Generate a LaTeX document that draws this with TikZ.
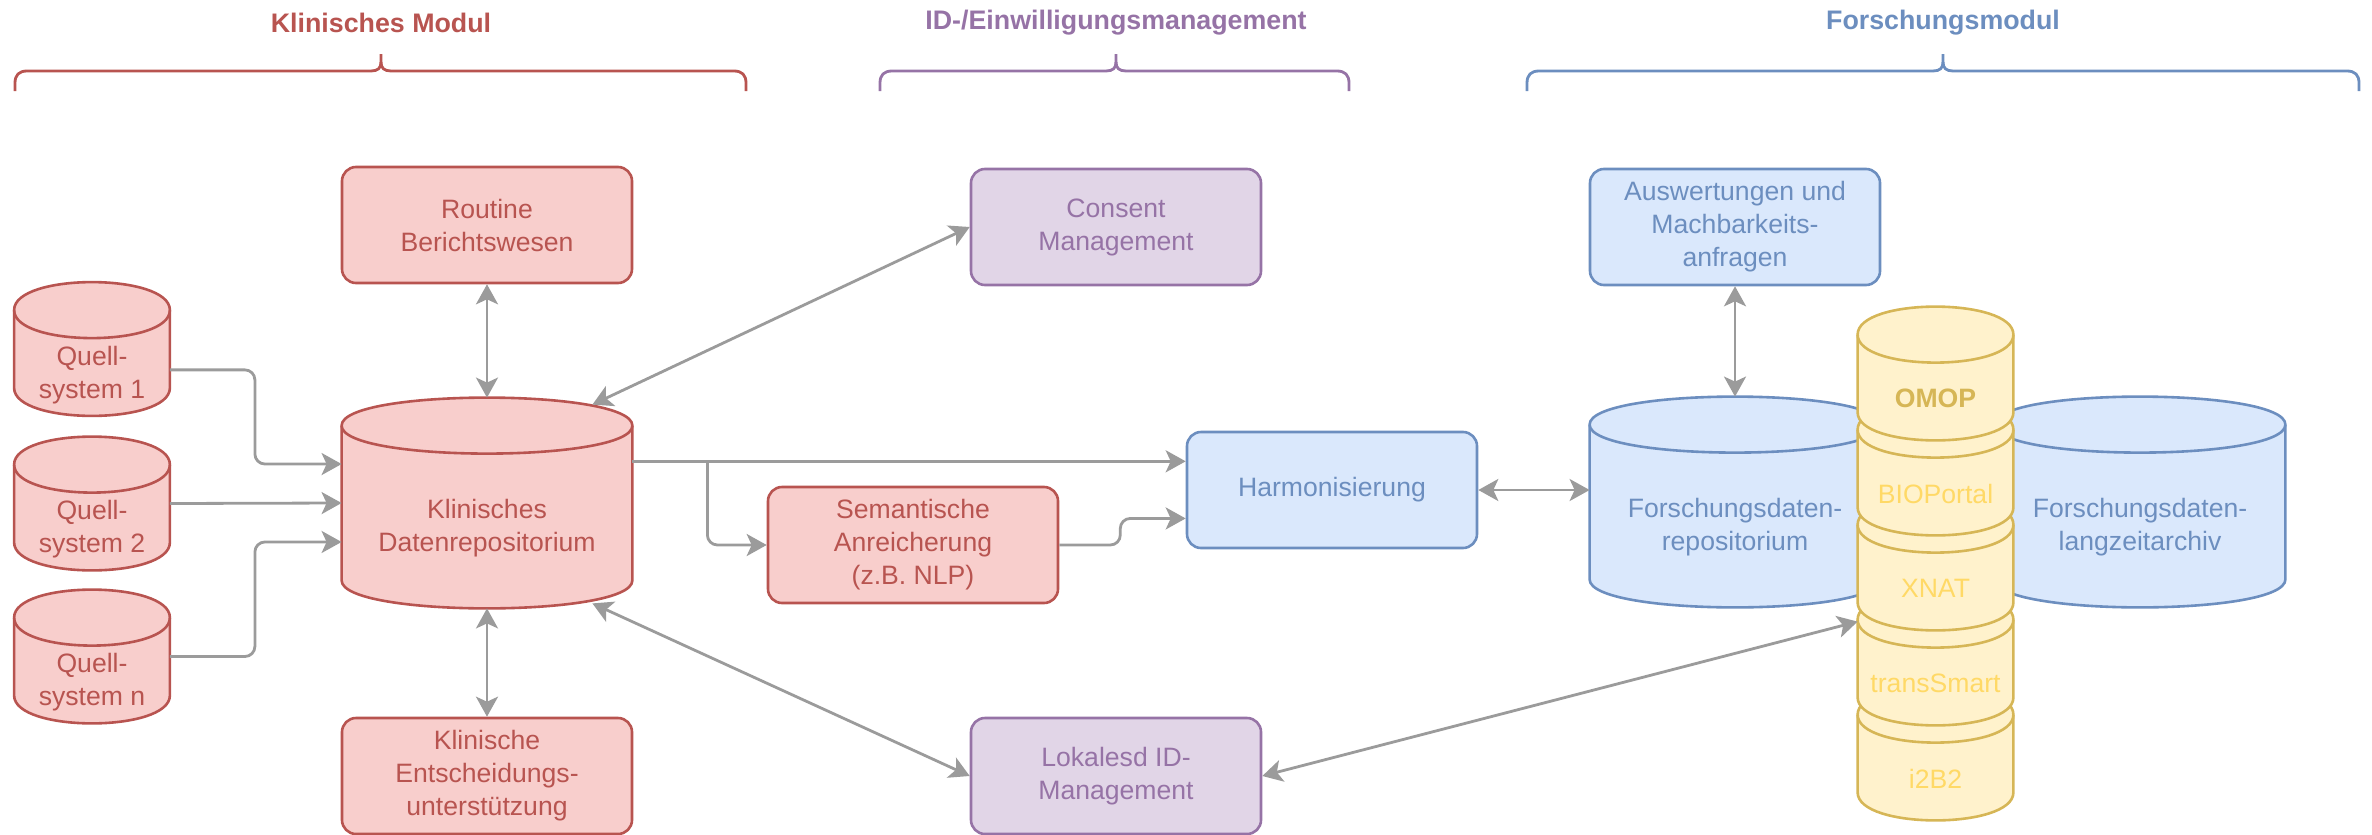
\documentclass[tikz,border=0pt]{standalone}
\usepackage{fontspec}
\setmainfont{Liberation Sans}
\usetikzlibrary{arrows.meta,calc}

\definecolor{redline}{HTML}{B85450}
\definecolor{redfill}{HTML}{F8CECC}
\definecolor{purpleline}{HTML}{9673A6}
\definecolor{purplefill}{HTML}{E1D5E7}
\definecolor{blueline}{HTML}{6C8EBF}
\definecolor{bluefill}{HTML}{DAE8FC}
\definecolor{yellowline}{HTML}{D6B656}
\definecolor{yellowfill}{HTML}{FFF2CC}
\definecolor{yellowtext}{HTML}{FFD966}
\definecolor{linkgray}{HTML}{9B9B9B}

% can drawn round an empty node: #1 node, #2 style, #3 half height of the lid
\newcommand{\drawcan}[3]{%
\filldraw[#2] ($(#1.north west)+(0,#3)$) .. controls +(0,-4/3*#3) and +(0,-4/3*#3) .. ($(#1.north east)+(0,#3)$) -- ($(#1.south east)+(0,-#3)$) .. controls +(0,4/3*#3) and +(0,4/3*#3) .. ($(#1.south west)+(0,-#3)$) -- cycle ;
\draw[#2, fill=none] ($(#1.north west)+(0,#3)$) .. controls +(0,4/3*#3) and +(0,4/3*#3) .. ($(#1.north east)+(0,#3)$) ;
}

\begin{document}
\begin{tikzpicture}[x=0.5pt,y=0.5pt,yscale=-1,
  font=\fontsize{13.3}{16.5}\selectfont,
  head/.style={font=\fontsize{13.4}{16}\selectfont\bfseries, inner sep=0pt},
  brace/.style={line width=1.4pt},
  redbox/.style={draw=redline, fill=redfill, text=redline, line width=1.3pt, rounded corners=7pt, minimum width=145pt, minimum height=58pt, align=center, inner sep=0pt},
  purplebox/.style={redbox, draw=purpleline, fill=purplefill, text=purpleline},
  bluebox/.style={redbox, draw=blueline, fill=bluefill, text=blueline},
  can/.style={minimum width=145pt, minimum height=105pt, inner sep=0pt},
  smallcan/.style={minimum width=77.5pt, minimum height=66.5pt, inner sep=0pt},
  redshape/.style={draw=redline, fill=redfill, line width=1.3pt},
  blueshape/.style={draw=blueline, fill=bluefill, line width=1.3pt},
  yellowshape/.style={draw=yellowline, fill=yellowfill, line width=1.3pt},
  cantext/.style={align=center, inner sep=0pt},
  link/.style={draw=linkgray, line width=1.4pt, rounded corners=5pt, >={Stealth[length=10pt,width=11pt,inset=2.5pt]}}]
\useasboundingbox (0,0) rectangle (2372,835);

%Brace: Klinisches Modul
\draw[brace, redline] (15,91) -- (15,83) .. controls (15,75) and (19,71) .. (27,71) -- (371,71) .. controls (378,71) and (381,68) .. (381,62) -- (381,54) ;
\draw[brace, redline] (381,62) .. controls (381,68) and (384,71) .. (391,71) -- (734,71) .. controls (742,71) and (746,75) .. (746,83) -- (746,91) ;
%Brace: ID-/Einwilligungsmanagement
\draw[brace, purpleline] (880,91) -- (880,83) .. controls (880,75) and (884,71) .. (892,71) -- (1106,71) .. controls (1113,71) and (1116,68) .. (1116,62) -- (1116,54) ;
\draw[brace, purpleline] (1116,62) .. controls (1116,68) and (1119,71) .. (1126,71) -- (1337,71) .. controls (1345,71) and (1349,75) .. (1349,83) -- (1349,91) ;
%Brace: Forschungsmodul
\draw[brace, blueline] (1527,91) -- (1527,83) .. controls (1527,75) and (1531,71) .. (1539,71) -- (1933,71) .. controls (1940,71) and (1943,68) .. (1943,62) -- (1943,54) ;
\draw[brace, blueline] (1943,62) .. controls (1943,68) and (1946,71) .. (1953,71) -- (2347,71) .. controls (2355,71) and (2359,75) .. (2359,83) -- (2359,91) ;

% Text Node
\node[head, text=redline] (title-klin) at (381,23) {Klinisches Modul};
% Text Node
\node[head, text=purpleline] (title-id) at (1116,23) {ID-/Einwilligungsmanagement};
% Text Node
\node[head, text=blueline] (title-fo) at (1943,23) {Forschungsmodul};

%Shape: Rounded Rectangle
\node[redbox] (routine) at (487,225) {Routine\\Berichtswesen};
\node[redbox] (cds) at (487,776) {Klinische\\Entscheidungs-\\unterstützung};
\node[redbox] (sem) at (913,545) {Semantische\\Anreicherung\\(z.B. NLP)};
\node[purplebox] (consent) at (1116,227) {Consent\\Management};
\node[purplebox] (idm) at (1116,776) {Lokalesd ID-\\Management};
\node[bluebox] (ausw) at (1735,227) {Auswertungen und\\Machbarkeits-\\anfragen};
\node[bluebox] (harm) at (1332,490) {Harmonisierung};

%Shape: Can
\node[smallcan] (q1) at (92,349) {};
\drawcan{q1}{redshape}{28}
\node[cantext, text=redline] (q1-t) at ($(q1)+(0,26)$) {Quell-\\system 1};
\node[smallcan] (q2) at (92,503.5) {};
\drawcan{q2}{redshape}{28}
\node[cantext, text=redline] (q2-t) at ($(q2)+(0,26)$) {Quell-\\system 2};
\node[smallcan] (qn) at (92,656.5) {};
\drawcan{qn}{redshape}{28}
\node[cantext, text=redline] (qn-t) at ($(qn)+(0,26)$) {Quell-\\system n};
\node[can] (klin) at (487,503) {};
\drawcan{klin}{redshape}{28}
\node[cantext, text=redline] (klin-t) at ($(klin)+(0,25)$) {Klinisches\\Datenrepositorium};
\node[can] (repo) at (1735,502) {};
\drawcan{repo}{blueshape}{28}
\node[cantext, text=blueline] (repo-t) at ($(repo)+(0,25)$) {Forschungsdaten-\\repositorium};
\node[can] (archive) at (2140,502) {};
\drawcan{archive}{blueshape}{28}
\node[cantext, text=blueline] (archive-t) at ($(archive)+(0,25)$) {Forschungsdaten-\\langzeitarchiv};

%Shape: Can stack, from the bottom up
\node[smallcan] (i2b2) at (1935.5,753.5) {};
\drawcan{i2b2}{yellowshape}{28}
\node[cantext, text=yellowtext] (i2b2-t) at ($(i2b2)+(0,25)$) {i2B2};
\node[smallcan] (trans) at (1935.5,658.5) {};
\drawcan{trans}{yellowshape}{28}
\node[cantext, text=yellowtext] (trans-t) at ($(trans)+(0,25)$) {transSmart};
\node[smallcan] (xnat) at (1935.5,563.5) {};
\drawcan{xnat}{yellowshape}{28}
\node[cantext, text=yellowtext] (xnat-t) at ($(xnat)+(0,25)$) {XNAT};
\node[smallcan] (bio) at (1935.5,468.5) {};
\drawcan{bio}{yellowshape}{28}
\node[cantext, text=yellowtext] (bio-t) at ($(bio)+(0,25)$) {BIOPortal};
\node[smallcan] (omop) at (1935.5,373.5) {};
\drawcan{omop}{yellowshape}{28}
\node[cantext, text=yellowline, font=\fontsize{13.3}{16.5}\selectfont\bfseries] (omop-t) at ($(omop)+(0,25)$) {OMOP};

%Connectors
\coordinate (split) at ($(klin.16)+(75,0)$);
\coordinate (klin-top) at ($(klin.45)+(0,7)$);
\coordinate (klin-bottom) at ($(klin.-45)+(0,-5)$);
\coordinate (stack-in) at ($(trans.north west)+(0,30)$);
\draw[link, ->] (q1.-15) -- ++(85,0) |- (klin.165) ;
\draw[link, ->] (q2.east) -- (klin.west) ;
\draw[link, ->] (qn.east) -- ++(85,0) |- (klin.195) ;
\draw[link, <->] (routine.south) -- (klin.north) ;
\draw[link, <->] (klin.south) -- (cds.north) ;
\draw[link, <->] (klin-top) -- (consent.west) ;
\draw[link, <->] (klin-bottom) -- (idm.west) ;
\draw[link, ->] (klin.16) -- (klin.16 -| harm.west) ;
\draw[link, ->] (split) |- (sem.west) ;
\draw[link, ->] (sem.east) -- ++(61,0) |- (harm.191) ;
\draw[link, <->] (harm.east) -- (harm.east -| repo.west) ;
\draw[link, <->] (ausw.south) -- (repo.north) ;
\draw[link, <->] (idm.east) -- (stack-in) ;

\end{tikzpicture}
\end{document}
